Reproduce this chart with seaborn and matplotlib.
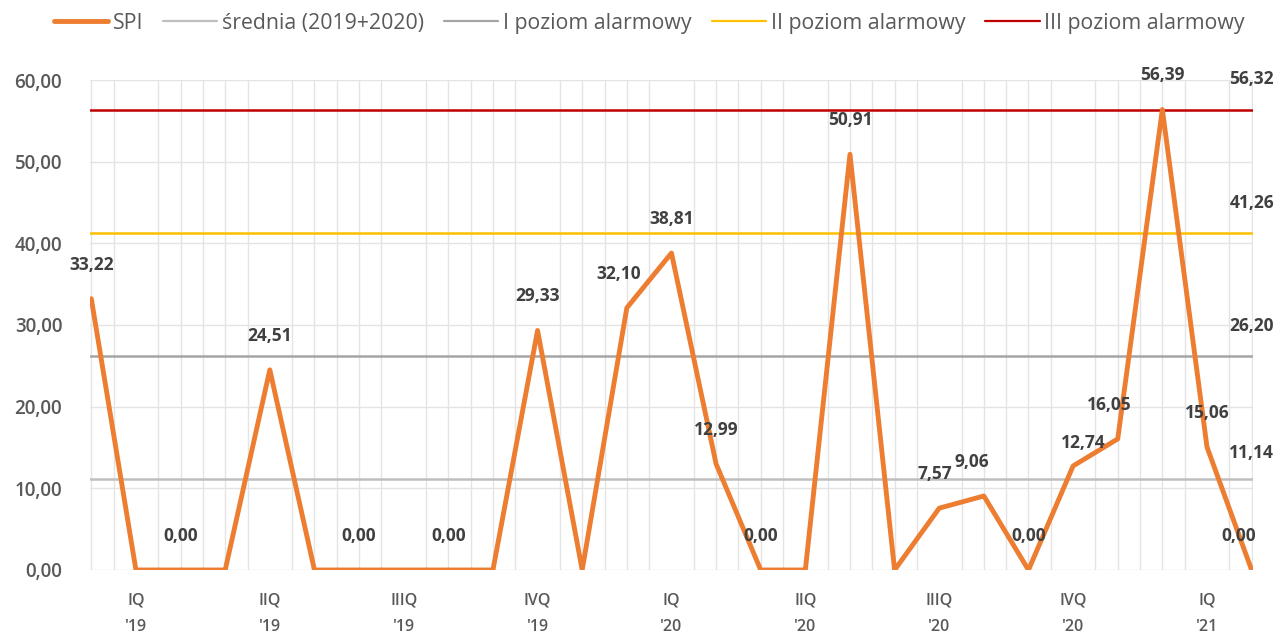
import matplotlib
matplotlib.use("Agg")
import matplotlib.pyplot as plt
import seaborn as sns
import pandas as pd
import numpy as np

months = list(range(27))
spi = [33.22, 0.00, 0.00, 0.00, 24.51, 0.00, 0.00, 0.00, 0.00, 0.00,
       29.33, 0.00, 32.10, 38.81, 12.99, 0.00, 0.00, 50.91, 0.00, 7.57,
       9.06, 0.00, 12.74, 16.05, 56.39, 15.06, 0.00]
labelled_zero = [2, 6, 8, 15, 21, 26]
quarter_pos = [1, 4, 7, 10, 13, 16, 19, 22, 25]
quarter_labels = ["IQ\n'19", "IIQ\n'19", "IIIQ\n'19", "IVQ\n'19", "IQ\n'20",
                  "IIQ\n'20", "IIIQ\n'20", "IVQ\n'20", "IQ\n'21"]
ref_names = ["średnia (2019+2020)", "I poziom alarmowy", "II poziom alarmowy", "III poziom alarmowy"]
ref_values = [11.14, 26.20, 41.26, 56.32]
ref_colors = ["#BFBFBF", "#A5A5A5", "#FFC000", "#C00000"]
y_ticks = [0, 10, 20, 30, 40, 50, 60]

sns.set_theme(style="white")
plt.rcParams['font.family'] = ['Open Sans', 'DejaVu Sans']

fig = plt.figure(figsize=(12.78, 6.36), dpi=100)
ax = fig.add_axes([0.0704, 0.1038, 0.9100, 0.7704])

df = pd.DataFrame({"m": months, "SPI": spi})
sns.lineplot(data=df, x="m", y="SPI", ax=ax, color="#ED7D31", linewidth=3.5,
             label="SPI", zorder=5)
for name, v, c in zip(ref_names, ref_values, ref_colors):
    ax.axhline(v, color=c, linewidth=1.8, label=name, zorder=3)

ax.set_xlim(-0.03, 26.03)
ax.set_ylim(0, 60)
ax.set_yticks(y_ticks)
ax.set_yticklabels([f"{v:.2f}".replace(".", ",") for v in y_ticks],
                   color="#595959", fontsize=13.5, fontweight="semibold")
ax.set_xticks(quarter_pos)
ax.set_xticklabels(quarter_labels, color="#595959", fontsize=11.5,
                   fontweight="semibold", linespacing=1.9)
ax.set_xticks(np.arange(0, 26.01, 0.5), minor=True)
ax.grid(True, which="minor", axis="x", color="#E4E4E4", linewidth=1)
ax.grid(True, which="major", axis="y", color="#E4E4E4", linewidth=1)
ax.tick_params(axis="y", length=0, pad=20)
ax.tick_params(axis="x", length=0, pad=16)
ax.tick_params(axis="x", which="minor", length=0)
for s in ax.spines.values():
    s.set_visible(False)
ax.set_xlabel("")
ax.set_ylabel("")

def fmt(v):
    return f"{v:.2f}".replace(".", ",")

offsets = {0: (0, 14), 4: (0, 14), 10: (0, 14), 12: (-6, 14), 13: (0, 14),
           14: (0, 14), 17: (0, 14), 19: (-3, 14), 20: (-9, 14), 22: (7, 6),
           23: (-6, 14), 24: (0, 14), 25: (0, 14)}
for i, v in enumerate(spi):
    if v == 0 and i not in labelled_zero:
        continue
    if v == 0:
        dx, dy = (0, 14) if i != 26 else (-9, 14)
    else:
        dx, dy = offsets.get(i, (0, 14))
    ax.annotate(fmt(v), (i, v), xytext=(dx, dy + 4), textcoords="offset points",
                ha="center", va="bottom", fontsize=12.5, fontweight="bold",
                color="#404040", zorder=6)

right_dy = [12, 15, 15, 16]
for v, dy in zip(ref_values, right_dy):
    ax.annotate(fmt(v), (26, v), xytext=(0, dy), textcoords="offset points",
                ha="center", va="bottom", fontsize=12.5, fontweight="bold",
                color="#404040", annotation_clip=False, zorder=6)

handles, labels = ax.get_legend_handles_labels()
leg = fig.legend(handles, labels, loc="upper center", bbox_to_anchor=(0.508, 1.01),
                 ncol=5, frameon=False, fontsize=15.3, handlelength=2.55,
                 columnspacing=0.95, handletextpad=0.22)
for t in leg.get_texts():
    t.set_color("#595959")
for l in leg.get_lines():
    if l.get_label() != "SPI":
        l.set_linewidth(1.6)
if ax.get_legend():
    ax.get_legend().remove()

fig.savefig("out.png", dpi=100)
